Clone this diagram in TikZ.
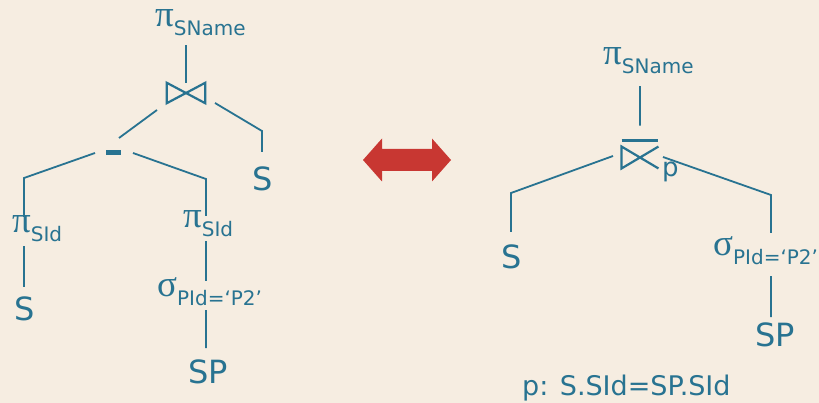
\documentclass[tikz,border=0pt]{standalone}
\usepackage{fontspec}
\setmainfont{DejaVu Sans}
\newfontfamily\greekfont{Liberation Serif}
\usetikzlibrary{calc}

\definecolor{paper}{RGB}{246,237,225}
\definecolor{ink}{RGB}{40,115,145}
\definecolor{arrowred}{RGB}{200,55,50}

\newcommand{\opsub}[2]{{\greekfont\fontsize{37}{37}\selectfont #1}\raisebox{-8.5pt}{\fontsize{20}{20}\selectfont #2}}

\tikzset{
  link/.style={draw=ink,line width=1.8pt},
  symb/.style={draw=ink,line width=2.2pt},
  rel/.style={text=ink,font=\fontsize{32}{32}\selectfont,inner xsep=0pt,anchor=north},
  op/.style={text=ink,inner xsep=0pt,inner ysep=1pt,text height=15pt,text depth=12pt,anchor=base west},
  joinbox/.style={minimum width=38pt,minimum height=20pt,inner sep=0pt},
}

\begin{document}
\begin{tikzpicture}[x=1pt,y=-1pt]
  \useasboundingbox (0,0) rectangle (819,403);
  \fill[paper] (0,0) rectangle (819,403);

  % left tree
  \node[op,inner ysep=6pt] (pname1) at (155,27) {\opsub{π}{SName}};
  \node[joinbox] (join1) at (186,93) {};
  \node[fill=ink,minimum width=15pt,minimum height=5pt,inner sep=0pt] (diff) at (113.5,153) {};
  \node[rel,inner ysep=15pt] (s1) at (263,152) {S};
  \node[op] (pid1) at (12,233) {\opsub{π}{SId}};
  \node[rel,inner ysep=10pt] (s2) at (25,287) {S};
  \node[op] (pid2) at (183,228) {\opsub{π}{SId}};
  \node[op] (sel1) at (157,297) {\opsub{σ}{PId=‘P2’}};
  \node[rel,inner ysep=12pt] (sp1) at (208,348) {SP};

  \coordinate (c1) at (24,178);
  \coordinate (c2) at (206,179);
  \coordinate (c3) at (262,131);

  \draw[symb] (join1.north west) -- (join1.south east) -- (join1.north east) -- (join1.south west) -- cycle;

  \path[link]
    (join1.north) -- (join1.north |- pname1.south)
    ($(join1)+(-29,17)$) -- ($(diff)+(5.5,-15)$)
    ($(join1)+(29,10)$) -- (c3) -- (s1.north -| c3)
    ($(diff)+(-18.5,0)$) -- (c1) -- (pid1.north -| c1)
    ($(diff)+(19.5,0)$) -- (c2) -- ([yshift=-4pt]pid2.north -| c2)
    (pid1.south -| c1) -- (s2.north -| c1)
    (pid2.south -| c2) -- (sel1.north -| c2)
    (sel1.south -| c2) -- (sp1.north -| c2);

  % equivalence arrow
  \fill[arrowred] (363,160) -- (382,138.5) -- (382,149) -- (432,149) -- (432,138.5) -- (451,160)
    -- (432,181.5) -- (432,171) -- (382,171) -- (382,181.5) -- cycle;

  % right tree
  \node[op,inner ysep=9pt] (pname2) at (603,65) {\opsub{π}{SName}};
  \node[minimum width=36.5pt,minimum height=21.5pt,inner sep=0pt] (join2) at (640,157.5) {};
  \node[text=ink,font=\fontsize{26}{26}\selectfont,anchor=base west,inner sep=0pt] (pcond) at (662,177) {p};
  \node[rel,inner ysep=13pt] (s3) at (512,232) {S};
  \node[op,inner ysep=8pt] (sel2) at (713,256) {\opsub{σ}{PId=‘P2’}};
  \node[rel,inner ysep=6pt] (sp2) at (775,317) {SP};
  \node[text=ink,font=\fontsize{27}{27}\selectfont,anchor=base west,inner xsep=0pt] (cond) at (522,395) {p: S.SId=SP.SId};

  \coordinate (c4) at (511,193);
  \coordinate (c5) at (771,195);

  \draw[symb] (join2.north east) -- (join2.south west) -- (join2.north west) -- (join2.south east);
  \draw[ink,line width=3pt] ([yshift=6.5pt]join2.north west) -- ([yshift=6.5pt]join2.north east);

  \path[link]
    ([yshift=21pt]join2.north) -- (join2.north |- pname2.south)
    ($(join2)+(-27,-1.5)$) -- (c4) -- (s3.north -| c4)
    ($(join2)+(23,-0.5)$) -- (c5) -- (sel2.north -| c5)
    (sel2.south -| c5) -- (sp2.north -| c5);
\end{tikzpicture}
\end{document}
